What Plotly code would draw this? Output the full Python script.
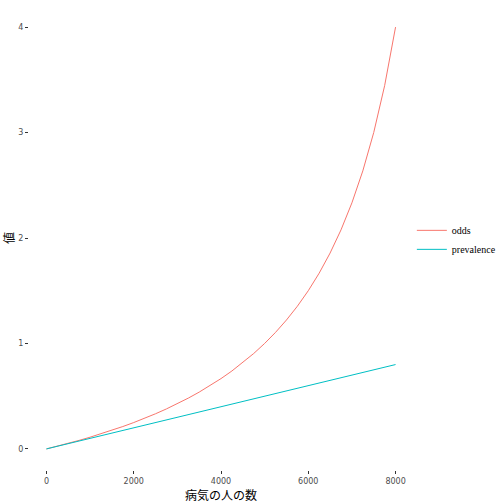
import plotly.graph_objects as go

people = [0, 250, 500, 750, 1000, 1250, 1500, 1750, 2000, 2250, 2500, 2750, 3000,
          3250, 3500, 3750, 4000, 4250, 4500, 4750, 5000, 5250, 5500, 5750, 6000,
          6250, 6500, 6750, 7000, 7250, 7500, 7750, 8000]
odds = [0, 0.0256, 0.0526, 0.0811, 0.1111, 0.1429, 0.1765, 0.2121, 0.25, 0.2903,
        0.3333, 0.3793, 0.4286, 0.4815, 0.5385, 0.6, 0.6667, 0.7391, 0.8182, 0.9048,
        1.0, 1.1053, 1.2222, 1.3529, 1.5, 1.6667, 1.8571, 2.0769, 2.3333, 2.6364,
        3.0, 3.4444, 4.0]
prevalence = [0, 0.025, 0.05, 0.075, 0.1, 0.125, 0.15, 0.175, 0.2, 0.225, 0.25,
              0.275, 0.3, 0.325, 0.35, 0.375, 0.4, 0.425, 0.45, 0.475, 0.5, 0.525,
              0.55, 0.575, 0.6, 0.625, 0.65, 0.675, 0.7, 0.725, 0.75, 0.775, 0.8]
x_ticks = [0, 2000, 4000, 6000, 8000]
y_ticks = [0, 1, 2, 3, 4]

fig = go.Figure()
fig.add_trace(go.Scatter(x=people, y=odds, mode="lines", name="odds",
                         line=dict(color="#F8766D", width=1)))
fig.add_trace(go.Scatter(x=people, y=prevalence, mode="lines", name="prevalence",
                         line=dict(color="#00BFC4", width=1)))

axis_common = dict(showgrid=False, zeroline=False, showline=False, automargin=False,
                   ticks="outside", ticklen=3, tickcolor="#333333", tickwidth=1,
                   tickfont=dict(family="DejaVu Sans", size=8, color="#4D4D4D"))

fig.update_layout(
    width=504, height=504,
    margin=dict(l=28.5, r=90.5, t=6, b=34, autoexpand=False),
    plot_bgcolor="white", paper_bgcolor="white",
    xaxis=dict(range=[-400, 8400], tickvals=x_ticks, ticktext=[str(v) for v in x_ticks],
               title=dict(text="病気の人の数", standoff=4,
                          font=dict(family="Noto Sans CJK JP", size=12, color="black")),
               **axis_common),
    yaxis=dict(range=[-0.2, 4.2], tickvals=y_ticks, ticktext=[str(v) for v in y_ticks],
               title=dict(text="値", standoff=4,
                          font=dict(family="Noto Sans CJK JP", size=12, color="black")),
               **axis_common),
    legend=dict(x=0.997, y=0.496, xanchor="left", yanchor="middle",
                font=dict(family="Liberation Serif", size=10, color="black"),
                itemwidth=30, tracegroupgap=2, bgcolor="rgba(0,0,0,0)"),
    showlegend=True,
)

fig.write_html("out.html", config={"displayModeBar": False},
               post_script="document.body.style.margin='0';document.body.style.overflow='hidden';")
